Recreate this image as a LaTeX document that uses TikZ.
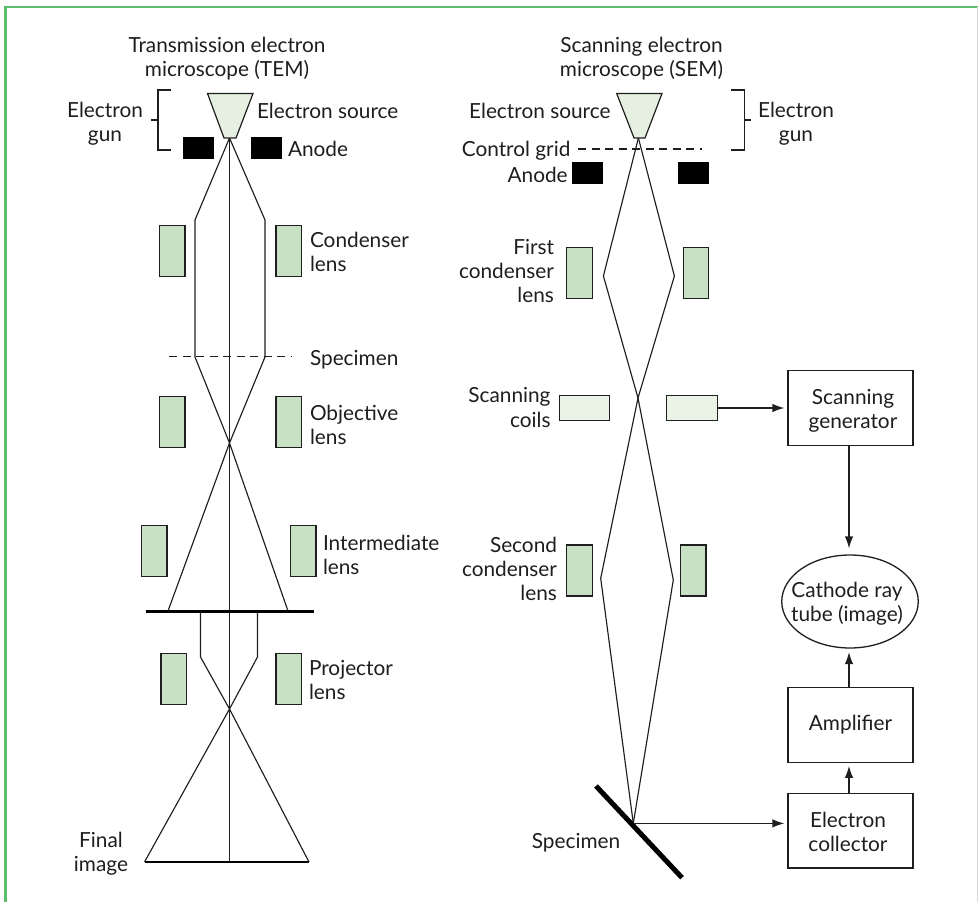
\documentclass[tikz,border=0pt]{standalone}
\usepackage{fontspec}
\setmainfont{Lato}
\usetikzlibrary{arrows.meta,shapes.geometric}
\definecolor{lensgreen}{HTML}{C8E1C4}
\definecolor{palegreen}{HTML}{E6F0E0}
\definecolor{coilgreen}{HTML}{EBF3E6}
\definecolor{framegreen}{HTML}{5DBF6D}
\definecolor{ink}{HTML}{1E1E1E}
\tikzset{
  lbl/.style={inner sep=0pt,outer sep=0pt,text=ink,yshift=-1.5pt,font=\fontsize{20.8}{24.2}\selectfont},
  lensbox/.style={draw=ink,line width=1.2pt,fill=lensgreen,inner sep=0pt,minimum width=25.5pt,minimum height=51pt},
  coilbox/.style={draw=ink,line width=1.2pt,fill=coilgreen,inner sep=0pt,minimum width=50.5pt,minimum height=25.5pt},
  anodebox/.style={fill=black,inner sep=0pt,minimum width=31pt,minimum height=22pt},
  sourcebox/.style={draw=ink,line width=1.2pt,fill=palegreen},
  ray/.style={draw=ink,line width=1.15pt,line join=miter},
  thinline/.style={draw=ink,line width=1.2pt},
  plate/.style={draw=black,line width=2.5pt},
  flowbox/.style={draw=ink,line width=1.3pt,inner sep=0pt,minimum width=125pt,minimum height=74.5pt},
  flow/.style={draw=ink,line width=1.3pt,-{Latex[length=12pt,width=8.5pt]}},
  gridline/.style={draw=ink,line width=1.1pt,dash pattern=on 8pt off 5.5pt}
}
\begin{document}
\begin{tikzpicture}[x=1pt,y=-1pt]
\useasboundingbox (0,0) rectangle (978,902);
\draw[draw=framegreen,line width=2.5pt] (5.5,902) -- (5.5,7) -- (978,7);
\draw[draw=lightgray!60,line width=1pt] (977.5,7) -- (977.5,902);

% ---- TEM
\node[lbl,align=center] (temtitle) at (227,57) {Transmission electron\\microscope (TEM)};
\coordinate (tA) at (229.5,138);
\coordinate (tL1) at (195,220); \coordinate (tL2) at (195,357);
\coordinate (tR1) at (265,220); \coordinate (tR2) at (265,357);
\coordinate (tX) at (229.5,443);
\coordinate (tP1) at (168,611); \coordinate (tP2) at (288,611);
\coordinate (tBot) at (229.5,862);
\coordinate (pL0) at (200.5,611); \coordinate (pL1) at (200.5,657);
\coordinate (pR0) at (257.5,611); \coordinate (pR1) at (257.5,657);
\coordinate (pX) at (229.5,709);
\coordinate (fL) at (144.5,862); \coordinate (fR) at (309,862);
\coordinate (plateL) at (145.5,611.3); \coordinate (plateR) at (314,611.3);
\coordinate (specL) at (169,356.5); \coordinate (specR) at (292,356.5);

\draw[ray] (tA) -- (tBot);
\draw[ray] (tA) -- (tL1) -- (tL2) -- (tX) -- (tP2);
\draw[ray] (tA) -- (tR1) -- (tR2) -- (tX) -- (tP1);
\draw[ray] (pL0) -- (pL1) -- (pX) -- (fR);
\draw[ray] (pR0) -- (pR1) -- (pX) -- (fL);
\draw[plate] (plateL) -- (plateR);
\draw[plate] (fL) -- (fR);
\draw[gridline] (specL) -- (specR);
\filldraw[sourcebox] (207.5,93.5) -- (253,93.5) -- (236,138) -- (224,138) -- cycle;
\node[anodebox] (ta1) at (198.5,148) {};
\node[anodebox] (ta2) at (266.5,148) {};
\node[lensbox] (tc1) at (172.25,251.25) {};
\node[lensbox] (tc2) at (288.75,251.25) {};
\node[lensbox] (to1) at (172.25,422) {};
\node[lensbox] (to2) at (288.75,422) {};
\node[lensbox] (ti1) at (154.25,551.2) {};
\node[lensbox] (ti2) at (303.25,551.2) {};
\node[lensbox] (tp1) at (173.75,679.2) {};
\node[lensbox] (tp2) at (288.75,679.2) {};
\draw[thinline] (171,90) -- (158,90) -- (158,150) -- (171,150);
\draw[thinline] (158,120) -- (151,120);
\node[lbl,align=center] (tgun) at (105,122.5) {Electron\\gun};
\node[lbl,anchor=west] (tsrc) at (257,109.5) {Electron source};
\node[lbl,anchor=west] (tan) at (288,147) {Anode};
\node[lbl,anchor=west,align=left] (tcl) at (310,250.5) {Condenser\\lens};
\node[lbl,anchor=west] (tsp) at (310,358) {Specimen};
\node[lbl,anchor=west,align=left] (tol) at (310,423.5) {Objective\\lens};
\node[lbl,anchor=west,align=left] (til) at (323,553.5) {Intermediate\\lens};
\node[lbl,anchor=west,align=left] (tpl) at (309,678.5) {Projector\\lens};
\node[lbl,align=center] (tfi) at (101,852.5) {Final\\image};

% ---- SEM
\node[lbl,align=center] (semtitle) at (641.5,57) {Scanning electron\\microscope (SEM)};
\coordinate (sA) at (638.4,138);
\coordinate (sL1) at (603.4,276); \coordinate (sR1) at (674.4,276);
\coordinate (sX) at (638,398);
\coordinate (sL2) at (600.7,578.3); \coordinate (sR2) at (673.3,580);
\coordinate (sP) at (633.3,823.4);
\coordinate (sdL) at (578,149); \coordinate (sdR) at (701.5,149);
\coordinate (specA) at (596,786); \coordinate (specB) at (682,877.7);
\draw[ray] (sA) -- (sL1) -- (sX) -- (sR2) -- (sP);
\draw[ray] (sA) -- (sR1) -- (sX) -- (sL2) -- (sP);
\draw[gridline] (sdL) -- (sdR);
\filldraw[sourcebox] (616.7,93.5) -- (662,93.5) -- (645,138) -- (634,138) -- cycle;
\node[anodebox] (sa1) at (587.2,172.7) {};
\node[anodebox] (sa2) at (693.1,172.7) {};
\node[lensbox] (sc1) at (579.6,273.2) {};
\node[lensbox] (sc2) at (696.1,273.2) {};
\node[coilbox] (sk1) at (584.5,408) {};
\node[coilbox] (sk2) at (691.9,408) {};
\node[lensbox] (sd1) at (579.5,570.5) {};
\node[lensbox] (sd2) at (693.2,570.5) {};
\draw[thinline] (731,90) -- (744.4,90) -- (744.4,150) -- (731,150);
\draw[thinline] (744.4,120) -- (751,120);
\node[lbl,align=center] (sgun) at (796,122.5) {Electron\\gun};
\node[lbl,anchor=east] (ssrc) at (610.5,109.5) {Electron source};
\node[lbl,anchor=east] (sgrid) at (570.4,149) {Control grid};
\node[lbl,anchor=east] (san) at (567.7,173.5) {Anode};
\node[lbl,anchor=east,align=right] (scl) at (554,269.5) {First\\condenser\\lens};
\node[lbl,anchor=east,align=right] (skl) at (550.5,406) {Scanning\\coils};
\node[lbl,anchor=east,align=right] (sdl) at (557,567.5) {Second\\condenser\\lens};
\draw[line width=5pt,draw=black] (specA) -- (specB);
\node[lbl] (ssp) at (576,841) {Specimen};

\node[flowbox,label={[lbl,align=center,xshift=2.5pt,yshift=-1pt]center:{Scanning\\generator}}] (gen) at (850.5,408) {};
\node[draw=ink,line width=1.3pt,ellipse,inner sep=0pt,minimum width=136.5pt,minimum height=93pt,label={[lbl,align=center,xshift=-3pt,yshift=-1pt]center:{Cathode ray\\tube (image)}}] (crt) at (850,601.5) {};
\node[flowbox,label={[lbl,yshift=2pt]center:Amplifier}] (amp) at (850.5,725) {};
\node[flowbox,label={[lbl,align=center,xshift=-2.5pt]center:{Electron\\collector}}] (col) at (850.5,830.7) {};
\coordinate (busX) at (849,0);
\draw[flow,shorten >=3pt] (sk2.east) -- (gen.west);
\draw[flow,shorten >=6pt] (gen.south -| busX) -- (crt.north -| busX);
\draw[flow,shorten >=3.5pt] (amp.north -| busX) -- (crt.south -| busX);
\draw[flow,shorten >=3pt] (col.north -| busX) -- (amp.south -| busX);
\draw[flow,shorten >=3pt] (sP) -- (sP -| col.west);
\end{tikzpicture}
\end{document}
